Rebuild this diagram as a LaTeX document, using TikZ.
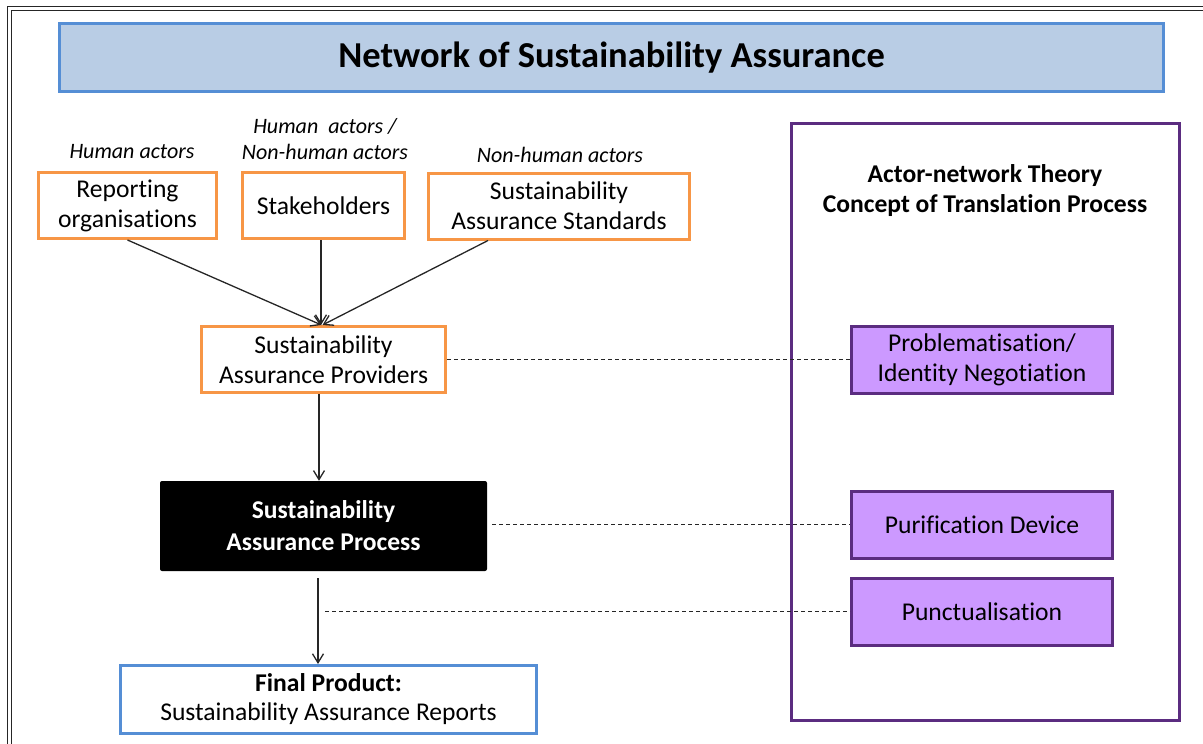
\documentclass[tikz,border=0pt]{standalone}
\usepackage{fontspec}
\setmainfont{Carlito}[Ligatures=CommonOff]
\usepackage{tikz}
\usepackage{xcolor}
\usetikzlibrary{arrows.meta,positioning}
\definecolor{ink}{HTML}{000000}
\definecolor{inkgray}{HTML}{262626}
\definecolor{headblue}{HTML}{558ED5}
\definecolor{headbg}{HTML}{B9CDE5}
\definecolor{actororange}{HTML}{F79646}
\definecolor{antpurple}{HTML}{5B2C80}
\definecolor{stagebg}{HTML}{CC99FF}
\tikzset{
  headbox/.style={draw=headblue,fill=headbg,line width=3pt,
                  minimum width=1104pt,minimum height=68pt,inner sep=0pt,
                  font=\fontsize{36.5}{42}\selectfont\bfseries},
  actorbox/.style={draw=actororange,fill=white,line width=3pt,
                   minimum height=66pt,inner sep=0pt,align=center,
                   font=\fontsize{25.6}{30}\selectfont},
  processbox/.style={fill=ink,text=white,rounded corners=2pt,
                     minimum width=327pt,minimum height=90pt,inner sep=0pt,align=center,
                     font=\fontsize{25.6}{32}\selectfont\bfseries},
  productbox/.style={draw=headblue,fill=white,line width=3pt,
                     minimum width=416pt,minimum height=68pt,inner sep=0pt,align=center,
                     font=\fontsize{25.6}{29}\selectfont},
  antframe/.style={draw=antpurple,line width=3.2pt,
                   minimum width=388pt,minimum height=597pt,inner sep=0pt},
  stagebox/.style={draw=antpurple,fill=stagebg,line width=3pt,
                   minimum width=261pt,minimum height=67pt,inner sep=0pt,align=center,
                   font=\fontsize{25.6}{30}\selectfont},
  rolelabel/.style={align=center,inner sep=0pt,
                    font=\fontsize{22}{26}\selectfont\itshape},
  flowarr/.style={-{Straight Barb[length=9pt,width=11pt]},line width=1.3pt,color=inkgray},
  linkdash/.style={line width=1.1pt,dash pattern=on 4pt off 3pt,color=inkgray}
}

\begin{document}
\begin{tikzpicture}[x=1pt,y=-1pt]
  \useasboundingbox (0,0) rectangle (1203,744);
  \clip (0,0) rectangle (1203,744);
  % outer page frame
  \draw[double,double distance=2.5pt,line width=1pt,color=inkgray] (9.5,760) -- (9.5,8.5) -- (1220,8.5);

  \node[headbox] (head) at (611.5,57.5) {Network of Sustainability Assurance};

  % actors of the network
  \node[actorbox,minimum width=178pt] (reporting) at (127.5,205.5) {Reporting\\organisations};
  \node[actorbox,minimum width=162pt] (stakeholders) at (323.5,205.5) {Stakeholders};
  \node[actorbox,minimum width=261pt] (standards) at (559,206) {Sustainability\\Assurance Standards};
  \node[rolelabel] (humanlbl) at (132,152) {Human actors};
  \node[rolelabel] (mixedlbl) at (325,139) {Human\ \ actors /\\Non-human actors};
  \node[rolelabel] (nonhumanlbl) at (560,155) {Non-human actors};

  \node[actorbox,minimum width=244pt] (providers) at (323.5,359.5) {Sustainability\\Assurance Providers};
  \node[processbox] (process) at (323.5,526) {Sustainability\\Assurance Process};
  \node[productbox] (product) at (328.5,699.5) {\textbf{Final Product:}\\Sustainability Assurance Reports};

  \draw[flowarr] (reporting.south) -- ([xshift=-2pt]providers.north);
  \draw[flowarr] ([xshift=-2.5pt]stakeholders.south) -- ([xshift=-2.5pt]providers.north);
  \draw[flowarr] ([xshift=-71pt]standards.south) -- ([xshift=-1pt]providers.north);

  \coordinate (spine) at (319,0);
  \draw[flowarr] (spine |- providers.south) -- (spine |- process.north);
  \coordinate (spinelow) at (318,578);
  \draw[flowarr] (spinelow) -- (spinelow |- product.north);

  % translation process side
  \node[antframe] (ant) at (985.5,422) {};
  \node[align=center,font=\fontsize{25.6}{30}\selectfont\bfseries] (antlbl) at (985,191)
    {Actor-network Theory\\Concept of Translation Process};
  \node[stagebox] (problem) at (982,360) {Problematisation/\\Identity Negotiation};
  \node[stagebox] (purify) at (982,524.5) {Purification Device};
  \node[stagebox] (punct) at (982,611.5) {Punctualisation};

  \draw[linkdash] (providers.east) -- (providers.east -| problem.west);
  \draw[linkdash] ([xshift=5pt]process.east |- purify.west) -- (purify.west);
  \coordinate (dashlow) at (325,611.5);
  \draw[linkdash] (dashlow) -- (dashlow -| punct.west);
\end{tikzpicture}
\end{document}
